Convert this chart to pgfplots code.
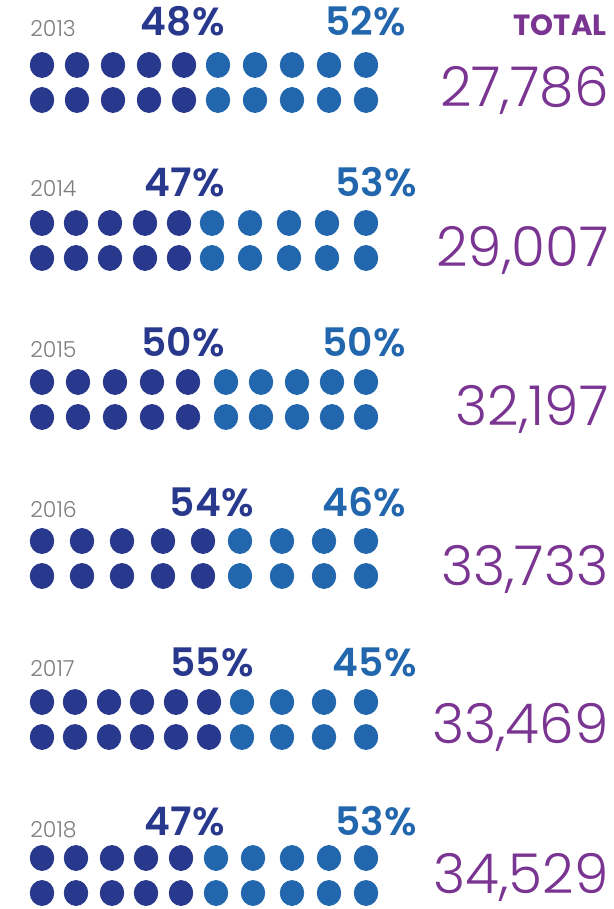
\documentclass[border=0pt]{standalone}
\usepackage{fontspec}
\setmainfont{Poppins}
\newfontfamily\poplight{Poppins Light}
\newfontfamily\popsemi{Poppins SemiBold}
\usepackage{pgfplots}
\usepackage{pgfplotstable}
\pgfplotsset{compat=1.18}
\definecolor{darkdot}{RGB}{40,56,141}
\definecolor{lightdot}{RGB}{34,103,173}
\definecolor{totalpurple}{RGB}{122,52,145}
\definecolor{yeargray}{RGB}{125,125,125}

% dot centres, in picture pixels (y grows downwards)
\pgfplotstableread{
x y
42 65
77 65
113 65
149 65
184 65
42 100
77 100
113 100
149 100
184 100
42 223
76 223
110 223
145 223
179 223
42 258
76 258
110 258
145 258
179 258
42 382
78 382
115 382
152 382
188 382
42 417
78 417
115 417
152 417
188 417
42 541
82 541
122 541
163 541
203 541
42 576
82 576
122 576
163 576
203 576
42 702
75 702
109 702
142 702
176 702
209 702
42 737
75 737
109 737
142 737
176 737
209 737
42 858
76 858
112 858
146 858
181 858
42 893
76 893
112 893
146 893
181 893
}\darkdots

\pgfplotstableread{
x y
218 65
255 65
292 65
329 65
366 65
218 100
255 100
292 100
329 100
366 100
212 223
250 223
289 223
327 223
366 223
212 258
250 258
289 258
327 258
366 258
226 382
261 382
297 382
332 382
366 382
226 417
261 417
297 417
332 417
366 417
240 541
282 541
324 541
366 541
240 576
282 576
324 576
366 576
242 702
282 702
324 702
366 702
242 737
282 737
324 737
366 737
216 858
253 858
292 858
329 858
366 858
216 893
253 893
292 893
329 893
366 893
}\lightdots

\tikzset{
    yr/.style={anchor=base west, inner sep=0, text=yeargray,
        font=\poplight\fontsize{11pt}{12pt}\selectfont},
    pdark/.style={anchor=base east, inner sep=0, text=darkdot,
        font=\popsemi\fontsize{19.6pt}{21pt}\selectfont},
    plight/.style={anchor=base east, inner sep=0, text=lightdot,
        font=\popsemi\fontsize{19.6pt}{21pt}\selectfont},
    tot/.style={anchor=base east, inner sep=0, text=totalpurple,
        font=\poplight\fontsize{27.5pt}{30pt}\selectfont},
}

\begin{document}
\begin{tikzpicture}
    \begin{axis}[
            width=307pt,
            height=454.5pt,
            scale only axis,
            xmin=0, xmax=614,
            ymin=0, ymax=909,
            y dir=reverse,
            axis line style={draw=none},
            xtick=\empty, ytick=\empty,
            clip=false,
        ]
        \addplot[only marks, mark=*, color=darkdot,
            mark size=5.9pt, mark options={yscale=1.06}]
            table[x=x, y=y] {\darkdots};
        \addplot[only marks, mark=*, color=lightdot,
            mark size=5.9pt, mark options={yscale=1.06}]
            table[x=x, y=y] {\lightdots};

        % years
        \node[yr] at (axis cs:30,36.5) {2013};
        \node[yr] at (axis cs:30,197) {2014};
        \node[yr] at (axis cs:30,357) {2015};
        \node[yr] at (axis cs:30,517) {2016};
        \node[yr] at (axis cs:30,676) {2017};
        \node[yr] at (axis cs:30,837) {2018};
        % shares
        \node[pdark] at (axis cs:225,36) {48\%};
        \node[plight] at (axis cs:406,36) {52\%};
        \node[pdark] at (axis cs:225,197) {47\%};
        \node[plight] at (axis cs:417,197) {53\%};
        \node[pdark] at (axis cs:225,356) {50\%};
        \node[plight] at (axis cs:406,356) {50\%};
        \node[pdark] at (axis cs:254,516) {54\%};
        \node[plight] at (axis cs:406,516) {46\%};
        \node[pdark] at (axis cs:254,676) {55\%};
        \node[plight] at (axis cs:417,676) {45\%};
        \node[pdark] at (axis cs:225,835) {47\%};
        \node[plight] at (axis cs:417,835) {53\%};
        % totals
        \node[anchor=base east, inner sep=0, text=totalpurple,
            font=\bfseries\fontsize{14.6pt}{16pt}\selectfont]
            at (axis cs:607,36) {TOTAL};
        \node[tot] at (axis cs:609,107) {27,786};
        \node[tot] at (axis cs:609,266) {29,007};
        \node[tot] at (axis cs:609,425) {32,197};
        \node[tot] at (axis cs:609,585) {33,733};
        \node[tot] at (axis cs:609,743) {33,469};
        \node[tot] at (axis cs:609,893) {34,529};
    \end{axis}
\end{tikzpicture}
\end{document}
